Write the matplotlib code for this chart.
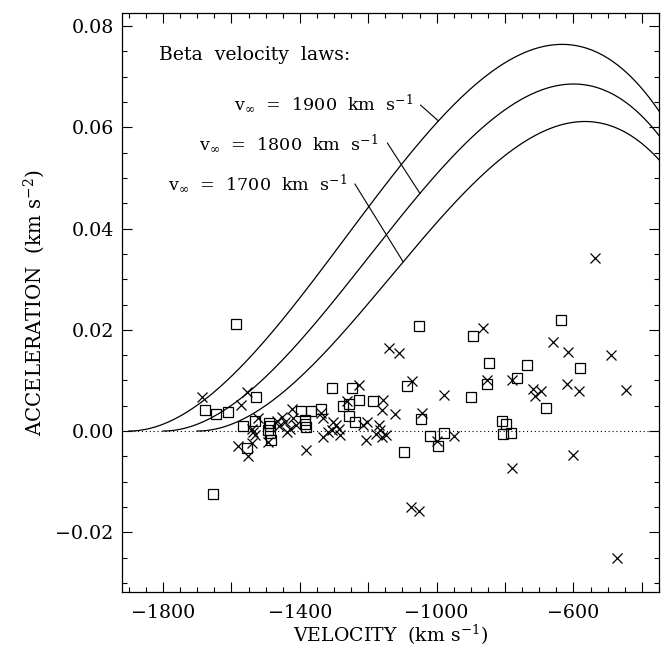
import numpy as np
import matplotlib
matplotlib.use("Agg")
import matplotlib.pyplot as plt
from matplotlib.ticker import MultipleLocator, FixedLocator, FixedFormatter

# ---- observed points: open squares ----
sq_vel = [-1586, -1654, -1678, -1646, -1611, -1566, -1556, -1528, -1530,
          -1490, -1486, -1493, -1488, -1485, -1397, -1366, -1385, -1384,
          -1383, -1338, -1306, -1247, -1228, -1275, -1257, -1187, -1256,
          -1240, -1086, -1045, -1095, -1020, -1051, -893, -847, -737, -637,
          -581, -764, -853, -900, -679, -997, -978, -810, -798, -806, -782]
sq_acc = [0.0212, -0.0124, 0.0041, 0.0033, 0.0037, 0.0010, -0.0034, 0.0067,
          0.0019, 0.0015, 0.0010, 0.0003, -0.0004, -0.0017, 0.0040, 0.0040,
          0.0021, 0.0014, 0.0008, 0.0044, 0.0085, 0.0085, 0.0062, 0.0049,
          0.0054, 0.0060, 0.0029, 0.0018, 0.0090, 0.0023, -0.0041, -0.0010,
          0.0207, 0.0187, 0.0135, 0.0130, 0.0220, 0.0124, 0.0105, 0.0092,
          0.0068, 0.0046, -0.0030, -0.0003, 0.0019, 0.0013, -0.0005, -0.0003]

# ---- observed points: crosses ----
x_vel = [-1685, -1572, -1556, -1580, -1552, -1541, -1536, -1531, -1541, -1522,
         -1494, -1453, -1444, -1439, -1429, -1424, -1419, -1410, -1460, -1466,
         -1381, -1339, -1333, -1302, -1294, -1287, -1307, -1317, -1283, -1333,
         -1262, -1227, -1207, -1214, -1205, -1170, -1166, -1177, -1148, -1160,
         -1157, -1159, -1122, -1140, -1111, -1071, -1042, -1076, -1052, -1000,
         -950, -979, -866, -852, -780, -779, -718, -712, -695, -659, -617,
         -618, -584, -600, -537, -489, -446, -474]
x_acc = [0.0068, 0.0051, 0.0078, -0.0030, -0.0050, 0.0005, -0.0001, -0.0008,
         -0.0024, 0.0025, -0.0022, 0.0028, 0.0018, -0.0001, 0.0005, 0.0044,
         0.0025, 0.0012, 0.0010, 0.0020, -0.0037, 0.0036, 0.0025, 0.0018,
         0.0012, 0.0005, 0.0002, -0.0001, -0.0008, -0.0011, 0.0060, 0.0091,
         -0.0017, 0.0012, 0.0018, 0.0012, 0.0002, -0.0005, -0.0008, -0.0011,
         0.0061, 0.0041, 0.0033, 0.0165, 0.0155, 0.0098, 0.0036, -0.0150,
         -0.0157, -0.0019, -0.0009, 0.0071, 0.0203, 0.0100, 0.0101, -0.0073,
         0.0084, 0.0070, 0.0079, 0.0175, 0.0157, 0.0093, 0.0079, -0.0048,
         0.0341, 0.0150, 0.0082, -0.0251]

# ---- beta velocity law models (parameters as labelled) ----
vinf_list = [1700, 1800, 1900]
beta = 1.0
r_star_km = 7.0e6

x_ticks_major = [-1800, -1600, -1400, -1200, -1000, -800, -600, -400]
x_tick_labels = ["\u22121800", "", "\u22121400", "", "\u22121000", "", "\u2212600", ""]
y_ticks_major = [-0.02, 0.00, 0.02, 0.04, 0.06, 0.08]
y_tick_labels = ["\u22120.02", "0.00", "0.02", "0.04", "0.06", "0.08"]

XLIM = (-1920, -350)
YLIM = (-0.0318, 0.0826)


def beta_accel(v, vinf):
    w = np.clip(np.abs(v) / vinf, 0, 1)
    return (vinf ** 2 / r_star_km) * beta * w ** ((2 * beta - 1) / beta) * (1 - w ** (1 / beta)) ** 2


plt.rcParams['font.family'] = ['DejaVu Serif']
plt.rcParams['mathtext.fontset'] = 'dejavuserif'

fig = plt.figure(figsize=(6.69, 6.49), dpi=100)
ax = fig.add_axes([122 / 669, 1 - 592 / 649, (659 - 122) / 669, (592 - 13) / 649])

ax.axhline(0, color='black', lw=0.8, ls=(0, (1, 2.5)))

for vinf in vinf_list:
    v = np.linspace(-vinf, XLIM[1], 600)
    ax.plot(v, beta_accel(v, vinf), color='black', lw=0.9)

ax.plot(sq_vel, sq_acc, ls='none', marker='s', ms=7, mfc='none', mec='black', mew=0.9)
ax.plot(x_vel, x_acc, ls='none', marker='x', ms=7, mec='black', mew=0.9)

# labels and leader lines
labels = {1900: (-1069, 0.0636), 1800: (-1171, 0.0557), 1700: (-1263, 0.0478)}
leader_start = {1900: (-1047, 0.0644), 1800: (-1144, 0.0569), 1700: (-1239, 0.0488)}
leader_end_x = {1900: -995, 1800: -1049, 1700: -1098}
for vinf in vinf_list:
    tx, ty = labels[vinf]
    ax.text(tx, ty, r"v$_\infty$  =  %d  km  s$^{-1}$" % vinf, ha='right', va='baseline',
            fontsize=12.6)
    sx, sy = leader_start[vinf]
    ex = leader_end_x[vinf]
    ax.plot([sx, ex], [sy, beta_accel(ex, vinf)], color='black', lw=0.8)

ax.text(-1813, 0.0733, "Beta  velocity  laws:", ha='left', va='baseline', fontsize=13.6)

ax.set_xlim(*XLIM)
ax.set_ylim(*YLIM)
ax.xaxis.set_major_locator(FixedLocator(x_ticks_major))
ax.xaxis.set_major_formatter(FixedFormatter(x_tick_labels))
ax.xaxis.set_minor_locator(MultipleLocator(50))
ax.yaxis.set_major_locator(FixedLocator(y_ticks_major))
ax.yaxis.set_major_formatter(FixedFormatter(y_tick_labels))
ax.yaxis.set_minor_locator(MultipleLocator(0.005))

ax.tick_params(which='both', direction='in', top=True, right=True, width=0.8, labelsize=13.7)
ax.tick_params(axis='x', which='major', length=7, pad=9)
ax.tick_params(axis='y', which='major', length=7, pad=6)
ax.tick_params(which='minor', length=3.8)
for s in ax.spines.values():
    s.set_linewidth(0.9)

ax.set_xlabel(r"VELOCITY  (km s$^{-1}$)", fontsize=13.6, labelpad=0)
ax.set_ylabel(r"ACCELERATION  (km s$^{-2}$)", fontsize=14.2, labelpad=6)

fig.savefig("out.png", dpi=100)
